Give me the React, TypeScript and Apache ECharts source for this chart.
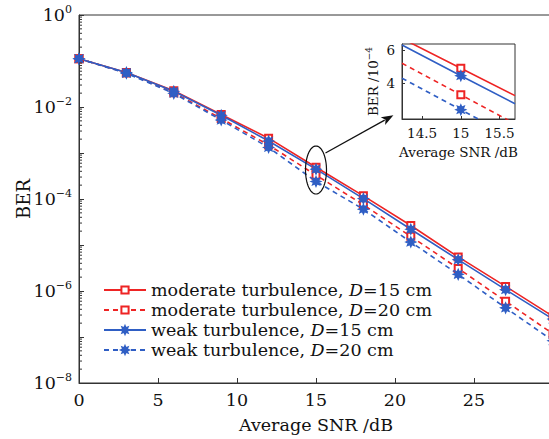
import React, { useEffect, useRef } from 'react';
import * as echarts from 'echarts';

// ---------- data ----------
const snr = [0, 3, 6, 9, 12, 15, 18, 21, 24, 27, 30];
const berModerateD15 = [0.112, 0.056, 0.0225, 0.0069, 0.0021, 4.9e-4, 1.17e-4, 2.65e-5, 5.5e-6, 1.26e-6, 2.8e-7];
const berModerateD20 = [0.112, 0.055, 0.0205, 0.0056, 0.00149, 3.3e-4, 7.5e-5, 1.54e-5, 3.1e-6, 6.0e-7, 1.17e-7];
const berWeakD15 = [0.112, 0.056, 0.022, 0.0066, 0.00182, 4.45e-4, 1.02e-4, 2.2e-5, 4.8e-6, 1.07e-6, 2.45e-7];
const berWeakD20 = [0.112, 0.054, 0.0198, 0.0052, 0.00132, 2.4e-4, 6.0e-5, 1.16e-5, 2.3e-6, 4.3e-7, 8.3e-8];

// inset (BER in units of 1e-4)
const insetSnr = [14.24, 15, 15.7];
const insetModerateD15 = [6.69, 4.9, 3.25];
const insetModerateD20 = [5.2, 3.3, 1.55];
const insetWeakD15 = [6.3, 4.45, 2.76];
const insetWeakD20 = [4.3, 2.4, 0.65];

const seriesNames = [
  'moderate turbulence, D=15 cm',
  'moderate turbulence, D=20 cm',
  'weak turbulence, D=15 cm',
  'weak turbulence, D=20 cm',
];

const xTicks = [0, 5, 10, 15, 20, 25, 30];
const insetXTicks = [14.5, 15, 15.5];
const insetYTicks = [4, 6];

// annotation (data coordinates of main chart)
const ellipseCenter = [15, 4.27e-4];
const arrowStart = [15.6, 1.0e-3];
const arrowEnd = [19.9, 6.6e-3];

const RED = '#ee2424';
const BLUE = '#2f5ec4';
const FONT = 'DejaVu Serif';

function starPath(): string {
  const pts: string[] = [];
  const n = 8;
  for (let i = 0; i < n * 2; i++) {
    const r = i % 2 === 0 ? 10 : 5.5;
    const a = (Math.PI * i) / n - Math.PI / 2;
    pts.push(`${(10 + r * Math.cos(a)).toFixed(2)} ${(10 + r * Math.sin(a)).toFixed(2)}`);
  }
  return 'path://M' + pts.join(' L') + ' Z';
}

const STAR = starPath();

function supLabel(exp: number) {
  const s = exp === 0 ? '0' : '\u2212' + String(-exp);
  return `{b|10}{s|${s}}`;
}

export default function App() {
  const ref = useRef<HTMLDivElement>(null);
  useEffect(() => {
    if (!ref.current) return;
    const chart = echarts.init(ref.current, undefined, { renderer: 'svg' });

    const minorTicks: number[][] = [];
    for (let n = -8; n < 0; n++) {
      for (let k = 2; k <= 9; k++) minorTicks.push([0, k * Math.pow(10, n)]);
    }

    const mainSeries = [
      { name: seriesNames[0], data: berModerateD15, color: RED, dashed: false, symbol: 'emptyRect', size: 7 },
      { name: seriesNames[1], data: berModerateD20, color: RED, dashed: true, symbol: 'emptyRect', size: 7 },
      { name: seriesNames[2], data: berWeakD15, color: BLUE, dashed: false, symbol: STAR, size: 10 },
      { name: seriesNames[3], data: berWeakD20, color: BLUE, dashed: true, symbol: STAR, size: 10 },
    ];
    const insetData = [insetModerateD15, insetModerateD20, insetWeakD15, insetWeakD20];

    const series: any[] = [];
    mainSeries.forEach((s) => {
      series.push({
        type: 'line',
        name: s.name,
        xAxisIndex: 0,
        yAxisIndex: 0,
        data: snr.map((x, i) => [x, s.data[i]]),
        symbol: s.symbol,
        symbolSize: s.size,
        showAllSymbol: true,
        itemStyle: { color: s.color, borderColor: s.color, borderWidth: 1.2 },
        lineStyle: { color: s.color, width: 1.6, type: s.dashed ? [5, 4] : 'solid' },
        z: 3,
      });
    });
    mainSeries.forEach((s, j) => {
      series.push({
        type: 'line',
        name: s.name + ' (inset)',
        xAxisIndex: 1,
        yAxisIndex: 1,
        clip: true,
        data: insetSnr.map((x, i) =>
          i === 1 ? [x, insetData[j][i]] : { value: [x, insetData[j][i]], symbol: 'none' }
        ),
        symbol: s.symbol,
        symbolSize: s.size,
        itemStyle: { color: s.color, borderColor: s.color, borderWidth: 1.2 },
        lineStyle: { color: s.color, width: 1.6, type: s.dashed ? [5, 4] : 'solid' },
        z: 10,
        zlevel: 0,
      });
    });

    // minor ticks on the log axis
    series.push({
      type: 'custom',
      xAxisIndex: 0,
      yAxisIndex: 0,
      data: minorTicks,
      silent: true,
      renderItem: (params: any, api: any) => {
        const p = api.coord([api.value(0), api.value(1)]);
        return {
          type: 'line',
          shape: { x1: p[0], y1: p[1], x2: p[0] + 3, y2: p[1] },
          style: { stroke: '#333', lineWidth: 1 },
        };
      },
      z: 5,
    });

    // ellipse + arrow annotation
    series.push({
      type: 'custom',
      xAxisIndex: 0,
      yAxisIndex: 0,
      data: [ellipseCenter],
      silent: true,
      renderItem: (params: any, api: any) => {
        const c = api.coord(ellipseCenter);
        const a0 = api.coord(arrowStart);
        const a1 = api.coord(arrowEnd);
        const rx = 10.5, ry = 24;
        const pts: number[][] = [];
        for (let i = 0; i < 72; i++) {
          const t = (Math.PI * 2 * i) / 72;
          pts.push([c[0] + rx * Math.cos(t), c[1] + ry * Math.sin(t)]);
        }
        const ang = Math.atan2(a1[1] - a0[1], a1[0] - a0[0]);
        const L = 12, W = 4.5;
        const bx = a1[0] - L * Math.cos(ang), by = a1[1] - L * Math.sin(ang);
        const px = -Math.sin(ang) * W, py = Math.cos(ang) * W;
        return {
          type: 'group',
          children: [
            { type: 'polygon', shape: { points: pts }, style: { fill: 'none', stroke: '#111', lineWidth: 1.2 } },
            { type: 'line', shape: { x1: a0[0], y1: a0[1], x2: bx + 2 * Math.cos(ang), y2: by + 2 * Math.sin(ang) }, style: { stroke: '#111', lineWidth: 1.3 } },
            { type: 'polygon', shape: { points: [[a1[0], a1[1]], [bx + px, by + py], [bx + 3 * Math.cos(ang), by + 3 * Math.sin(ang)], [bx - px, by - py]] }, style: { fill: '#111' } },
          ],
        };
      },
      z: 6,
    });

    const option: any = {
      animation: false,
      backgroundColor: '#fff',
      textStyle: { fontFamily: FONT, color: '#111' },
      grid: [
        { left: 79, top: 15, right: 7, bottom: 51, show: true, borderColor: '#333', borderWidth: 1 },
        { left: 402, top: 44, width: 113, height: 75, show: true, borderColor: '#333', borderWidth: 1 },
      ],
      legend: {
        data: seriesNames,
        orient: 'vertical',
        left: 103,
        top: 280,
        padding: 0,
        itemGap: 0,
        itemWidth: 42,
        itemHeight: 9,
        textStyle: {
          fontFamily: FONT,
          fontSize: 17.5,
          color: '#111',
          lineHeight: 20,
          rich: {
            i: { fontFamily: FONT, fontSize: 17.5, fontStyle: 'italic', color: '#111', lineHeight: 20 },
          },
        },
        formatter: (name: string) => name.replace('D=', '{i|D}='),
      },
      xAxis: [
        {
          type: 'value',
          gridIndex: 0,
          min: 0,
          max: 30,
          interval: 5,
          name: 'Average SNR /dB',
          nameLocation: 'middle',
          nameGap: 33,
          nameMoveOverlap: false,
          nameTextStyle: { fontFamily: FONT, fontSize: 17.5, color: '#111' },
          axisLine: { lineStyle: { color: '#333', width: 1 } },
          axisTick: { inside: true, length: 5, lineStyle: { color: '#333' } },
          axisLabel: {
            margin: 8,
            fontFamily: FONT,
            fontSize: 17.5,
            color: '#111',
            formatter: (v: number) => (v >= 30 ? '' : String(v)),
            customValues: xTicks.filter((v) => v < 30),
          },
          splitLine: { show: false },
        },
        {
          type: 'value',
          gridIndex: 1,
          min: insetSnr[0],
          max: insetSnr[2],
          name: 'Average SNR /dB',
          nameLocation: 'middle',
          nameGap: 26,
          nameMoveOverlap: false,
          nameTextStyle: { fontFamily: FONT, fontSize: 13.5, color: '#111' },
          axisLine: { lineStyle: { color: '#333', width: 1 } },
          axisTick: { inside: true, length: 3, customValues: insetXTicks, lineStyle: { color: '#333' } },
          axisLabel: { margin: 7, fontFamily: FONT, fontSize: 13.5, color: '#111', customValues: insetXTicks },
          splitLine: { show: false },
        },
      ],
      yAxis: [
        {
          type: 'log',
          logBase: 10,
          gridIndex: 0,
          min: 1e-8,
          max: 1,
          splitNumber: 8,
          name: 'BER',
          nameLocation: 'middle',
          nameGap: 47,
          nameMoveOverlap: false,
          nameTextStyle: { fontFamily: FONT, fontSize: 18, color: '#111' },
          axisLine: { lineStyle: { color: '#333', width: 1 } },
          axisTick: { inside: true, length: 5, lineStyle: { color: '#333' } },
          axisLabel: {
            margin: 7,
            formatter: (v: number) => {
              const e = Math.round(Math.log10(v));
              if (e % 2 !== 0) return '';
              return supLabel(e);
            },
            rich: {
              b: { fontFamily: FONT, fontSize: 17.5, color: '#111', lineHeight: 22 },
              s: { fontFamily: FONT, fontSize: 11, color: '#111', lineHeight: 12, verticalAlign: 'top' },
            },
          },
          splitLine: { show: false },
        },
        {
          type: 'value',
          gridIndex: 1,
          min: 1.84,
          max: 6.36,
          name: '{a|BER /10}{s|\u22124}',
          nameLocation: 'middle',
          nameGap: 20,
          nameMoveOverlap: false,
          nameTextStyle: {
            rich: {
              a: { fontFamily: FONT, fontSize: 13.5, color: '#111', lineHeight: 18 },
              s: { fontFamily: FONT, fontSize: 9, color: '#111', lineHeight: 9, verticalAlign: 'top' },
            },
          },
          axisLine: { lineStyle: { color: '#333', width: 1 } },
          axisTick: { inside: true, length: 3, customValues: insetYTicks, lineStyle: { color: '#333' } },
          axisLabel: { margin: 7, fontFamily: FONT, fontSize: 13.5, color: '#111', customValues: insetYTicks },
          splitLine: { show: false },
        },
      ],
      series,
    };
    chart.setOption(option);
    return () => chart.dispose();
  }, []);

  return (
    <div
      ref={ref}
      style={{ position: 'fixed', left: 0, top: 0, width: 560, height: 439, background: '#fff' }}
    />
  );
}
